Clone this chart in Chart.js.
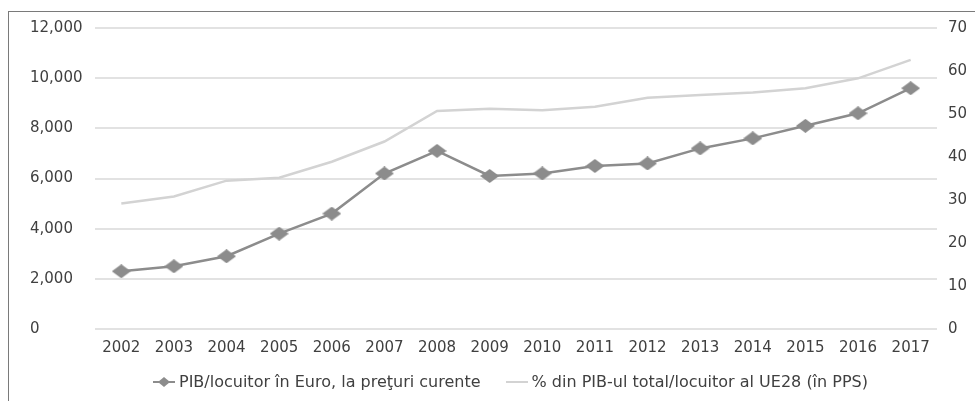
<!DOCTYPE html>
<html lang="ro">
<head>
<meta charset="utf-8">
<title>PIB/locuitor</title>
<script src="https://cdn.jsdelivr.net/npm/chart.js@4.4.1/dist/chart.umd.min.js"></script>
<style>
    html, body { margin: 0; padding: 0; background: #fff; overflow: hidden; }
    #wrap { position: relative; width: 975px; height: 401px; }
    #chenar {
        position: absolute; left: 8px; top: 11px; right: -5px; bottom: -5px;
        border-left: 1px solid #7a7a7a; border-top: 1px solid #7a7a7a;
    }
    #grafic { position: absolute; left: 0; top: 0; }
    #legenda {
        position: absolute; left: 153px; top: 372px;
        display: flex; align-items: center;
        font-family: "DejaVu Sans", sans-serif; font-size: 16px; color: #404040;
        white-space: nowrap;
    }
    .item { display: flex; align-items: center; margin-right: 25px; }
    .item canvas { margin-right: 4px; }
</style>
</head>
<body>
<div id="wrap">
    <div id="chenar"></div>
    <canvas id="grafic" width="975" height="401"></canvas>
    <div id="legenda"></div>
</div>
<script>
// Date
const ani = ['2002', '2003', '2004', '2005', '2006', '2007', '2008', '2009',
             '2010', '2011', '2012', '2013', '2014', '2015', '2016', '2017'];
const pibEuro = [2300, 2500, 2900, 3800, 4600, 6200, 7100, 6100,
                 6200, 6500, 6600, 7200, 7600, 8100, 8600, 9600];
const procentUE28 = [29.2, 30.8, 34.5, 35.2, 38.9, 43.6, 50.7, 51.2,
                     50.9, 51.7, 53.8, 54.4, 55.0, 56.0, 58.3, 62.6];
const eticheteSerii = ['PIB/locuitor în Euro, la preţuri curente',
                       '% din PIB-ul total/locuitor al UE28 (în PPS)'];

const culoarePib = '#8c8c8c';
const culoareProcent = '#d3d3d3';

// Romb usor latit, ca in imaginea originala
function creeazaRomb(w, h, culoare) {
    const c = document.createElement('canvas');
    c.width = w;
    c.height = h;
    const ctx = c.getContext('2d');
    ctx.fillStyle = culoare;
    ctx.beginPath();
    ctx.moveTo(w / 2, 0);
    ctx.lineTo(w, h / 2);
    ctx.lineTo(w / 2, h);
    ctx.lineTo(0, h / 2);
    ctx.closePath();
    ctx.fill();
    return c;
}

// Simbol de legenda: linie, eventual cu romb la mijloc
function creeazaSimbol(culoare, cuRomb) {
    const c = document.createElement('canvas');
    c.width = 22;
    c.height = 12;
    const ctx = c.getContext('2d');
    ctx.strokeStyle = culoare;
    ctx.lineWidth = 2;
    ctx.beginPath();
    ctx.moveTo(0, 6);
    ctx.lineTo(22, 6);
    ctx.stroke();
    if (cuRomb) {
        ctx.drawImage(creeazaRomb(12, 10, culoare), 5, 1);
    }
    return c;
}

const romb = creeazaRomb(19, 14, culoarePib);
const fontAxe = { family: '"DejaVu Sans", sans-serif', size: 15 };

function creeazaGrafic() {
    const ctx = document.getElementById('grafic').getContext('2d');

    return new Chart(ctx, {
        type: 'line',
        data: {
            labels: ani,
            datasets: [{
                label: eticheteSerii[0],
                data: pibEuro,
                yAxisID: 'y',
                borderColor: culoarePib,
                backgroundColor: culoarePib,
                borderWidth: 2.5,
                pointStyle: romb,
                pointRadius: 9,
                tension: 0
            }, {
                label: eticheteSerii[1],
                data: procentUE28,
                yAxisID: 'y1',
                borderColor: culoareProcent,
                backgroundColor: culoareProcent,
                borderWidth: 2.5,
                pointRadius: 0,
                tension: 0
            }]
        },
        options: {
            responsive: false,
            animation: false,
            devicePixelRatio: 1,
            layout: { padding: { left: 30, right: 0, top: 28, bottom: 47 } },
            plugins: {
                legend: { display: false },
                tooltip: { enabled: false }
            },
            scales: {
                x: {
                    offset: true,
                    grid: { display: false, drawTicks: false },
                    border: { display: false },
                    ticks: { color: '#404040', font: fontAxe, padding: 10, maxRotation: 0 },
                    afterFit: function(scale) { scale.height = 25; }
                },
                y: {
                    position: 'left',
                    min: 0,
                    max: 12000,
                    grid: { color: '#e2e2e2', lineWidth: 2, drawTicks: false },
                    border: { display: false },
                    ticks: {
                        stepSize: 2000,
                        color: '#404040',
                        font: fontAxe,
                        crossAlign: 'far',
                        callback: function(value) {
                            return value.toLocaleString('en-US');
                        }
                    },
                    afterFit: function(scale) { scale.width = 65; }
                },
                y1: {
                    position: 'right',
                    min: 0,
                    max: 70,
                    grid: { display: false, drawTicks: false },
                    border: { display: false },
                    ticks: { stepSize: 10, color: '#404040', font: fontAxe, padding: 11 },
                    afterFit: function(scale) { scale.width = 38; }
                }
            }
        }
    });
}

// Legenda HTML, construita din seturile de date
function creeazaLegenda(grafic) {
    const container = document.getElementById('legenda');
    container.innerHTML = '';
    grafic.data.datasets.forEach((set, i) => {
        const item = document.createElement('div');
        item.className = 'item';
        item.appendChild(creeazaSimbol(set.borderColor, i === 0));
        const text = document.createElement('span');
        text.textContent = set.label;
        item.appendChild(text);
        container.appendChild(item);
    });
}

document.addEventListener('DOMContentLoaded', () => {
    const grafic = creeazaGrafic();
    creeazaLegenda(grafic);
});
</script>
</body>
</html>
